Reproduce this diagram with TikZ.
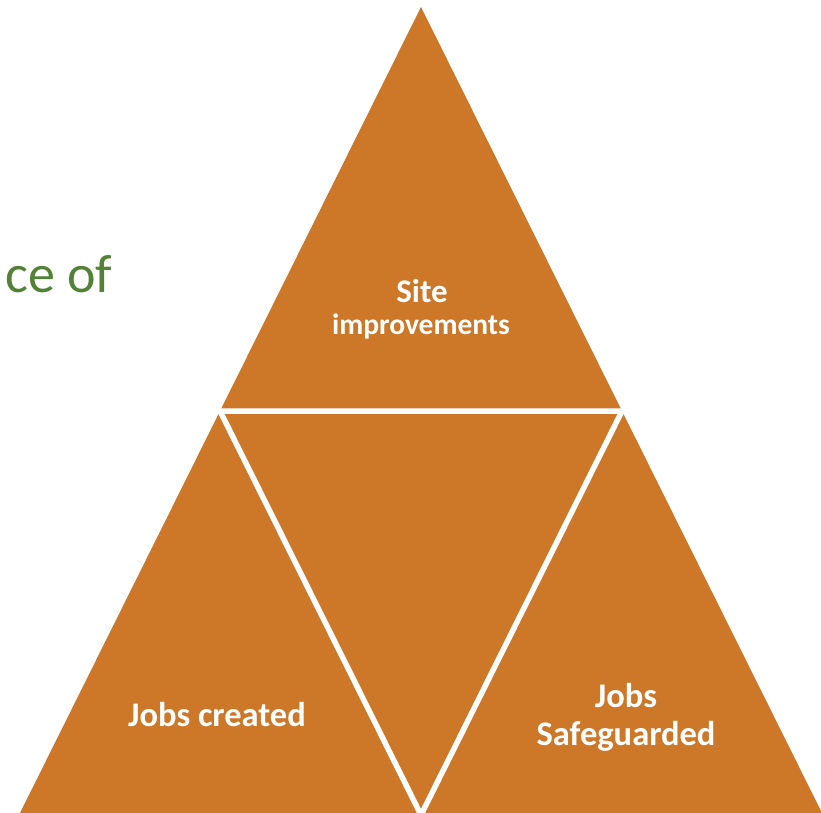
\documentclass[tikz,border=0pt]{standalone}
\usepackage{fontspec}
\setmainfont{Carlito}
\usetikzlibrary{calc}
\definecolor{ochre}{RGB}{205,119,40}
\definecolor{leaf}{RGB}{83,129,53}

\begin{document}
\begin{tikzpicture} [x=1pt, y=-1pt]
\useasboundingbox (0,0) rectangle (821,812);
\clip (0,0) rectangle (821,812);
\coordinate (apex) at (421,7);
\coordinate (bl) at (19,815);
\coordinate (br) at (823,815);
\coordinate (ml) at ($(apex)!.5!(bl)$);
\coordinate (mr) at ($(apex)!.5!(br)$);
\coordinate (mb) at ($(bl)!.5!(br)$);
\fill[ochre] (apex)--(bl)--(br)--cycle;
\draw[white, line width=5.5, line join=miter] (ml)--(mr)--(mb)--cycle;
\node[text=leaf, anchor=base east, font=\fontsize{54}{60}\selectfont] (lead) at (116,292) {ce of};
\node[text=white, font=\bfseries\fontsize{33}{38}\selectfont] (site) at (422,291) {Site};
\node[text=white, font=\bfseries\fontsize{29.5}{34}\selectfont] (impr) at (421,326) {improvements};
\node[text=white, font=\bfseries\fontsize{34.5}{40}\selectfont] (created) at (217,715) {Jobs created};
\node[text=white, font=\bfseries\fontsize{34.5}{40}\selectfont] (jobs) at (626,696) {Jobs};
\node[text=white, font=\bfseries\fontsize{34.5}{40}\selectfont] (saved) at (626,736) {Safeguarded};
\end{tikzpicture}
\end{document}
